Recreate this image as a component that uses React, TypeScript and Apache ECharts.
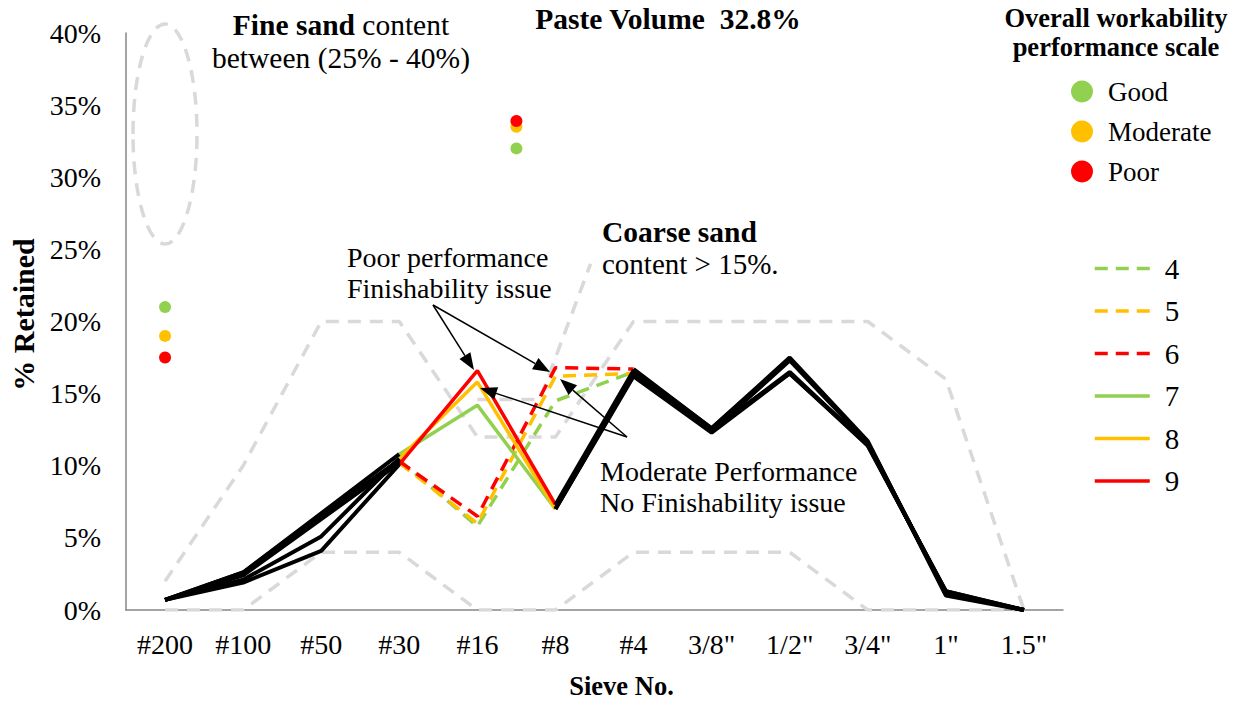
import React, { useEffect, useRef } from "react";
import * as echarts from "echarts";

const SIEVES = ["#200", "#100", "#50", "#30", "#16", "#8", "#4", '3/8"', '1/2"', '3/4"', '1"', '1.5"'];

// Tarantula-type limits (% retained)
const UPPER_LIMIT = [2, 10, 20, 20, 12, 12, 20, 20, 20, 20, 16, 0];
const LOWER_LIMIT = [0, 0, 4, 4, 0, 0, 4, 4, 4, 0, 0, 0];

// Mixes
const MIX_NAMES = ["4", "5", "6", "7", "8", "9"];
const MIX_4 = [0.7, 2.5, 6.5, 10.4, 5.8, 14.5, 16.5, 12.5, 16.4, 11.5, 1.2, 0];
const MIX_5 = [0.7, 2.4, 6.3, 10.2, 6.0, 16.2, 16.4, 12.4, 16.5, 11.4, 1.3, 0];
const MIX_6 = [0.7, 2.6, 6.6, 10.3, 6.5, 16.8, 16.7, 12.6, 17.4, 11.6, 1.1, 0];
const MIX_7 = [0.7, 2.6, 6.7, 10.8, 14.2, 7.0, 16.2, 12.3, 16.4, 11.4, 1.3, 0];
const MIX_8 = [0.7, 2.1, 5.1, 10.5, 15.8, 7.0, 16.3, 12.4, 17.3, 11.6, 1.2, 0];
const MIX_9 = [0.7, 1.9, 4.1, 10.1, 16.6, 7.3, 16.6, 12.6, 17.5, 11.7, 1.0, 0];
const MIX_VALUES = [MIX_4, MIX_5, MIX_6, MIX_7, MIX_8, MIX_9];
const MIX_CLASS = ["Good", "Moderate", "Poor", "Good", "Moderate", "Poor"];
const MIX_DASHED = [true, true, true, false, false, false];

// Performance-scale points: fine sand (at #200) and coarse sand (between #16 and #8)
const SCALE_NAMES = ["Good", "Moderate", "Poor"];
const FINE_SAND = [21, 19, 17.5];
const COARSE_SAND = [32, 33.5, 33.9];
const FINE_X = 0;
const COARSE_X = 4.5;

// Coarse sand guide line (value-axis coords)
const COARSE_GUIDE = [
  [4.0, 14.6],
  [4.8, 14.6],
  [5.45, 24.0],
];

const COLORS: Record<string, string> = { Good: "#92d050", Moderate: "#ffc000", Poor: "#ff0000" };
const SERIF = "'Liberation Serif', 'Times New Roman', serif";
const GREY = "#d9d9d9";

function segment(data: number[], from: number, to: number) {
  return data.map((v, i) => (i >= from && i <= to ? v : null));
}
function blackPart(data: number[], to: number) {
  return data.map((v, i) => (i <= 3 || i >= to ? v : null));
}

function arrow(x1: number, y1: number, x2: number, y2: number) {
  const len = Math.hypot(x2 - x1, y2 - y1);
  const ux = (x2 - x1) / len;
  const uy = (y2 - y1) / len;
  const hl = 17;
  const hw = 6.5;
  const bx = x2 - ux * hl;
  const by = y2 - uy * hl;
  return [
    { type: "line", shape: { x1, y1, x2: bx, y2: by }, style: { stroke: "#000", lineWidth: 1.5 }, z: 50 },
    {
      type: "polygon",
      shape: {
        points: [
          [x2, y2],
          [bx - uy * hw, by + ux * hw],
          [bx + uy * hw, by - ux * hw],
        ],
      },
      style: { fill: "#000" },
      z: 50,
    },
  ];
}

function txt(text: string, x: number, y: number, opts: any = {}) {
  const fs = opts.fontSize || 28;
  return {
    type: "text",
    x,
    y,
    z: 60,
    style: {
      text,
      fontFamily: SERIF,
      fontSize: fs,
      fontWeight: opts.bold ? "bold" : "normal",
      fill: "#000",
      align: opts.align || "left",
      verticalAlign: "middle",
      rich: {
        b: { fontFamily: SERIF, fontSize: fs, fontWeight: "bold", fill: "#000" },
        n: { fontFamily: SERIF, fontSize: fs, fontWeight: "normal", fill: "#000" },
      },
    },
  };
}

export default function App() {
  const ref = useRef<HTMLDivElement>(null);

  useEffect(() => {
    if (!ref.current) return;
    const chart = echarts.init(ref.current, null, { renderer: "svg" });

    const series: any[] = [];
    const greyStyle = { color: GREY, width: 3.5, type: [13, 9] };
    series.push({ name: "upper", type: "line", data: UPPER_LIMIT, symbol: "none", lineStyle: greyStyle, z: 1, silent: true });
    series.push({ name: "lower", type: "line", data: LOWER_LIMIT, symbol: "none", lineStyle: greyStyle, z: 1, silent: true });
    series.push({
      name: "coarse",
      type: "line",
      xAxisIndex: 1,
      data: COARSE_GUIDE,
      symbol: "none",
      lineStyle: greyStyle,
      z: 1,
      silent: true,
    });

    MIX_VALUES.forEach((vals, k) => {
      const colorTo = MIX_DASHED[k] ? 6 : 5;
      series.push({
        name: MIX_NAMES[k],
        type: "line",
        data: segment(vals, 3, colorTo),
        symbol: "none",
        itemStyle: { color: COLORS[MIX_CLASS[k]] },
        lineStyle: {
          color: COLORS[MIX_CLASS[k]],
          width: 3.5,
          type: MIX_DASHED[k] ? [13, 8] : "solid",
        },
        z: 2,
      });
    });
    MIX_VALUES.forEach((vals, k) => {
      const colorTo = MIX_DASHED[k] ? 6 : 5;
      series.push({
        name: "black-" + MIX_NAMES[k],
        type: "line",
        data: blackPart(vals, colorTo),
        symbol: "none",
        lineStyle: { color: "#000", width: 4 },
        z: 3,
      });
    });
    SCALE_NAMES.forEach((n, k) => {
      series.push({
        name: n,
        type: "scatter",
        xAxisIndex: 1,
        data: [
          [FINE_X, FINE_SAND[k]],
          [COARSE_X, COARSE_SAND[k]],
        ],
        symbolSize: 12,
        itemStyle: { color: COLORS[n], opacity: 1 },
        z: 4,
      });
    });

    const graphic: any[] = [
      {
        type: "ellipse",
        shape: { cx: 165, cy: 134, rx: 32, ry: 110 },
        style: { fill: "none", stroke: GREY, lineWidth: 3.5, lineDash: [13, 9] },
        z: 1,
      },
      txt("Paste Volume  32.8%", 668, 19, { bold: true, align: "center", fontSize: 29.5 }),
      txt("{b|Fine sand}{n| content}", 341, 25, { align: "center", fontSize: 29.5 }),
      txt("between (25% - 40%)", 341, 58, { align: "center", fontSize: 29.5 }),
      txt("Poor performance", 347, 257),
      txt("Finishability issue", 347, 288),
      txt("Coarse sand", 602, 232, { bold: true, fontSize: 29.5 }),
      txt("content > 15%.", 602, 264, { fontSize: 29 }),
      txt("Moderate Performance", 600, 471),
      txt("No Finishability issue", 600, 502),
      txt("Overall workability", 1116, 18, { bold: true, align: "center", fontSize: 26.5 }),
      txt("performance scale", 1116, 47, { bold: true, align: "center", fontSize: 26.5 }),
      ...arrow(433, 305, 474, 370),
      ...arrow(433, 305, 550, 372),
      ...arrow(627, 437, 480, 388),
      ...arrow(627, 437, 560, 379),
    ];

    chart.setOption({
      animation: false,
      textStyle: { fontFamily: SERIF },
      grid: { left: 123, right: 184, top: 33, bottom: 92 },
      xAxis: [
        {
          type: "category",
          data: SIEVES,
          boundaryGap: true,
          axisLine: { onZero: false, lineStyle: { color: "#868686", width: 1.5 } },
          axisTick: { show: false },
          axisLabel: { color: "#000", fontSize: 28, margin: 20, fontFamily: SERIF, interval: 0 },
          name: "Sieve No.",
          nameLocation: "middle",
          nameGap: 62,
          nameTextStyle: {
            color: "#000",
            fontSize: 26.5,
            fontWeight: "bold",
            fontFamily: SERIF,
            padding: [0, 0, 0, 54],
          },
        },
        { type: "value", min: -0.5, max: 11.5, show: false, axisLine: { onZero: false } },
      ],
      yAxis: {
        type: "value",
        min: 0,
        max: 40,
        interval: 5,
        axisLine: { show: true, onZero: false, lineStyle: { color: "#868686", width: 1.5 } },
        axisTick: { show: false },
        splitLine: { show: false },
        axisLabel: { color: "#000", fontSize: 28, margin: 25, fontFamily: SERIF, formatter: "{value}%" },
        name: "% Retained",
        nameLocation: "middle",
        nameRotate: 90,
        nameGap: 88,
        nameTextStyle: {
          color: "#000",
          fontSize: 30,
          fontWeight: "bold",
          fontFamily: SERIF,
          padding: [0, 0, 0, 14],
        },
      },
      legend: [
        {
          data: SCALE_NAMES,
          orient: "vertical",
          left: 1066,
          top: 73,
          icon: "circle",
          itemWidth: 22,
          itemHeight: 22,
          itemGap: 13,
          itemStyle: { opacity: 1 },
          textStyle: { color: "#000", fontSize: 27, fontFamily: SERIF, padding: [0, 0, 0, 10] },
          selectedMode: false,
        },
        {
          data: MIX_NAMES,
          orient: "vertical",
          left: 1088,
          top: 249,
          itemWidth: 55,
          itemHeight: 14,
          itemGap: 13.5,
          itemStyle: { opacity: 0 },
          lineStyle: { width: 3.5 },
          textStyle: { color: "#000", fontSize: 29, fontFamily: SERIF, padding: [0, 0, 0, 10] },
          selectedMode: false,
        },
      ],
      series,
      graphic,
    });

    return () => chart.dispose();
  }, []);

  return <div ref={ref} style={{ position: "fixed", left: 0, top: 0, width: 1247, height: 704, background: "#fff" }} />;
}
